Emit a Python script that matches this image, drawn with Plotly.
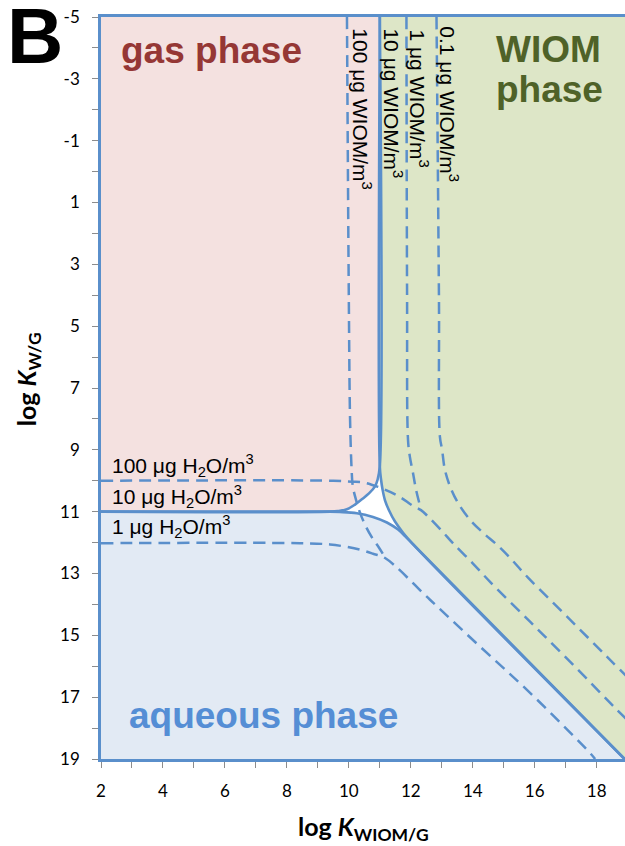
import plotly.graph_objects as go

# ---- axes (log units); y increases downwards ----
x_range = [2, 18.915]
y_range = [19, -5]
x_ticks = [2, 4, 6, 8, 10, 12, 14, 16, 18]
y_ticks = [-5, -3, -1, 1, 3, 5, 7, 9, 11, 13, 15, 17, 19]

# ---- 50 % boundaries at 10 ug/m3 of water and of WIOM (solid) ----
gas_edge_x = [11.0, 11.0, 10.93, 10.84, 10.65, 10.42, 10.20, 9.94, 9.65, 9.39, 2.0]
gas_edge_y = [-5.0, 9.53, 9.96, 10.19, 10.41, 10.60, 10.77, 10.92, 10.98, 11.0, 11.0]

aq_edge_x = [2.0, 9.39, 9.71, 10.26, 10.78, 11.23, 11.59, 11.86, 12.07, 18.9]
aq_edge_y = [11.0, 11.0, 11.01, 11.05, 11.17, 11.35, 11.58, 11.84, 12.05, 19.0]

wiom_edge_x = [11.0, 11.0, 11.04, 11.09, 11.17, 11.30, 11.49, 11.75, 12.07, 18.9]
wiom_edge_y = [-5.0, 9.53, 9.96, 10.29, 10.64, 10.96, 11.32, 11.68, 12.05, 19.0]

# ---- boundaries for other loadings (dashed) ----
h2o_100_x = [2.0, 9.5, 10.1, 10.5, 10.95, 11.35, 11.7, 12.05, 12.33, 12.55, 13.0,
             13.36, 14.0, 14.56, 15.85, 17.14, 18.53, 19.2]
h2o_100_y = [10.0, 10.0, 10.03, 10.06, 10.2, 10.37, 10.56, 10.8, 10.95, 11.15, 11.62,
             12.02, 12.67, 13.27, 14.56, 15.85, 17.28, 17.95]

h2o_1_x = [2.0, 8.42, 9.39, 9.88, 10.36, 10.78, 11.17, 12.62, 14.23, 15.85, 17.78, 17.95]
h2o_1_y = [12.02, 12.02, 12.06, 12.13, 12.23, 12.36, 12.5, 13.85, 15.36, 16.86, 18.8, 19.0]

wiom_100_x = [9.94, 10.0, 10.04, 10.09, 10.13, 10.23, 10.36, 10.55, 10.75, 10.97, 11.17]
wiom_100_y = [-5.0, 4.14, 8.02, 9.64, 10.19, 10.61, 11.03, 11.48, 11.84, 12.16, 12.48]

wiom_1_x = [11.86, 11.88, 11.91, 11.97, 12.07, 12.17, 12.33]
wiom_1_y = [-5.0, 4.0, 8.67, 9.22, 9.74, 10.29, 10.93]

wiom_01_x = [12.83, 12.91, 12.94, 13.01, 13.10, 13.27, 13.52, 13.91, 14.33, 14.78,
             15.20, 15.80, 17.14, 18.33, 19.2]
wiom_01_y = [-5.0, 4.14, 8.57, 8.99, 9.64, 10.19, 10.71, 11.26, 11.68, 12.07,
             12.49, 13.15, 14.49, 15.69, 16.56]

LINE = "#5A8FCB"
PINK = "#F4E1E0"
GREEN = "#DDE6C7"
BLUE = "#E2EAF4"
DASH = "12px,7px"

fig = go.Figure()

# phase regions
fig.add_trace(go.Scatter(x=[x_range[0]] + gas_edge_x, y=[y_range[1]] + gas_edge_y,
                         fill="toself", fillcolor=PINK, mode="lines",
                         line=dict(width=0, color=PINK), hoverinfo="skip"))
fig.add_trace(go.Scatter(x=wiom_edge_x + [19.5, 19.5], y=wiom_edge_y + [y_range[0], y_range[1]],
                         fill="toself", fillcolor=GREEN, mode="lines",
                         line=dict(width=0, color=GREEN), hoverinfo="skip"))
fig.add_trace(go.Scatter(x=aq_edge_x + [x_range[0]], y=aq_edge_y + [y_range[0]],
                         fill="toself", fillcolor=BLUE, mode="lines",
                         line=dict(width=0, color=BLUE), hoverinfo="skip"))

# dashed boundaries
for xs, ys in [(h2o_100_x, h2o_100_y), (h2o_1_x, h2o_1_y), (wiom_100_x, wiom_100_y),
               (wiom_1_x, wiom_1_y), (wiom_01_x, wiom_01_y)]:
    fig.add_trace(go.Scatter(x=xs, y=ys, mode="lines",
                             line=dict(color=LINE, width=2.5, dash=DASH,
                                       shape="spline", smoothing=1),
                             hoverinfo="skip"))

# solid boundaries
for xs, ys in [(gas_edge_x, gas_edge_y), (aq_edge_x, aq_edge_y), (wiom_edge_x, wiom_edge_y)]:
    fig.add_trace(go.Scatter(x=xs, y=ys, mode="lines",
                             line=dict(color=LINE, width=2.6, shape="spline", smoothing=1),
                             hoverinfo="skip"))

ann = []
BIG = dict(family="Liberation Sans, Arial, sans-serif", size=37)
SMALL = dict(family="Liberation Sans, Arial, sans-serif", size=21, color="black")
TITLE = dict(family="Lato, sans-serif", size=25, color="black")

# panel letter and axis titles sit outside the plotting area (paper coordinates)
ann.append(dict(x=-0.126, y=0.975, xref="paper", yref="paper", text="<b>B</b>",
                font=dict(family="Liberation Sans, Arial, sans-serif", size=78, color="black")))
ann.append(dict(x=0.5, y=-0.093, xref="paper", yref="paper",
                text="<b>log <i>K</i><sub>WIOM/G</sub></b>", font=TITLE))
ann.append(dict(x=-0.139, y=0.512, xref="paper", yref="paper",
                text="<b>log <i>K</i><sub>W/G</sub></b>", textangle=-90, font=TITLE))

ann.append(dict(x=5.58, y=-3.91, text="<b>gas phase</b>", font=dict(**BIG, color="#953735")))
ann.append(dict(x=16.44, y=-3.95, text="<b>WIOM</b>", font=dict(**BIG, color="#4F6228")))
ann.append(dict(x=16.47, y=-2.66, text="<b>phase</b>", font=dict(**BIG, color="#4F6228")))
ann.append(dict(x=7.25, y=17.6, text="<b>aqueous phase</b>", font=dict(**BIG, color="#558ED5")))

for yy, txt in [(9.5, "100 μg H<sub>2</sub>O/m<sup>3</sup>"),
                (10.5, "10 μg H<sub>2</sub>O/m<sup>3</sup>"),
                (11.48, "1 μg H<sub>2</sub>O/m<sup>3</sup>")]:
    ann.append(dict(x=2.28, y=yy, text=txt, xanchor="left", font=SMALL))

for xx, yy, txt in [(10.42, -2.02, "100 μg WIOM/m<sup>3</sup>"),
                    (11.43, -2.2, "10 μg WIOM/m<sup>3</sup>"),
                    (12.26, -2.37, "1 μg WIOM/m<sup>3</sup>"),
                    (13.23, -2.18, "0.1 μg WIOM/m<sup>3</sup>")]:
    ann.append(dict(x=xx, y=yy, text=txt, textangle=90, font=SMALL))

for a in ann:
    a.setdefault("xref", "x")
    a.setdefault("yref", "y")
    a.setdefault("showarrow", False)
    a.setdefault("xanchor", "center")
    a.setdefault("yanchor", "middle")

TICKFONT = dict(family="Lato, sans-serif", size=17, color="black")
fig.update_layout(
    width=625, height=846,
    margin=dict(l=101, r=0, t=17, b=87),
    paper_bgcolor="white", plot_bgcolor="white",
    showlegend=False,
    annotations=ann,
    xaxis=dict(range=x_range, tickmode="array", tickvals=x_ticks,
               ticktext=[str(v) for v in x_ticks], tickfont=TICKFONT,
               ticks="outside", ticklen=6, tickwidth=1, tickcolor="#8C8C8C",
               minor=dict(dtick=1, tick0=2, ticks="outside", ticklen=6,
                          tickwidth=1, tickcolor="#8C8C8C"),
               showline=True, linecolor=LINE, linewidth=2.6, mirror=True,
               showgrid=False, zeroline=False, ticklabelstandoff=9,
               fixedrange=True),
    yaxis=dict(range=y_range, tickmode="array", tickvals=y_ticks,
               ticktext=[str(v) for v in y_ticks], tickfont=TICKFONT,
               ticks="outside", ticklen=6, tickwidth=1, tickcolor="#8C8C8C",
               minor=dict(dtick=1, tick0=-5, ticks="outside", ticklen=6,
                          tickwidth=1, tickcolor="#8C8C8C"),
               showline=True, linecolor=LINE, linewidth=2.6,
               showgrid=False, zeroline=False, ticklabelstandoff=9,
               fixedrange=True),
)

fig.write_html("out.html")
